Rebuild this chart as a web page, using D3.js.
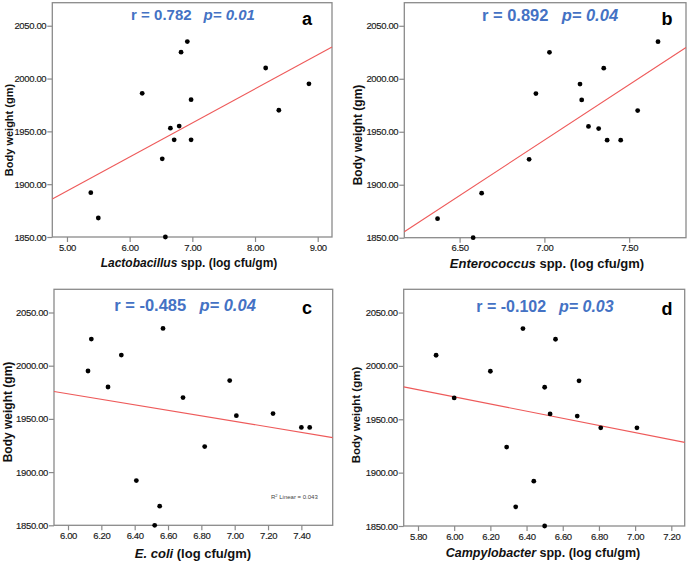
<!DOCTYPE html>
<html><head><meta charset="utf-8">
<script src="https://cdn.jsdelivr.net/npm/d3@7"></script>
<style>body{margin:0;background:#fff}svg{display:block}text{font-family:"Liberation Sans",Arial,sans-serif}</style>
</head><body><svg id="c" width="687" height="561"></svg>
<script>
// ---- data ----
const yTicks = [1850, 1900, 1950, 2000, 2050];
const lactoX = [5.38,5.50,6.20,6.52,6.57,6.65,6.71,6.79,6.82,6.92,6.98,6.98,8.17,8.38,8.86];
const lactoY = [1892,1868,1986,1924,1850,1953,1942,1955,2025,2035,1980,1942,2010,1970,1995];
const lactoTicks = [5,6,7,8,9];
const lactoFit = [1732.2, 32.25];
const enteroX = [6.37,6.58,6.63,6.91,6.95,7.03,7.21,7.22,7.26,7.32,7.35,7.37,7.45,7.55,7.67];
const enteroY = [1868,1850,1892,1924,1986,2025,1995,1980,1955,1953,2010,1942,1942,1970,2035];
const enteroTicks = [6.5,7.0,7.5];
const enteroFit = [1209.2, 104.7];
const ecoliX = [6.12,6.14,6.24,6.32,6.41,6.52,6.55,6.57,6.69,6.82,6.97,7.01,7.23,7.40,7.45];
const ecoliY = [1995,2025,1980,2010,1892,1850,1868,2035,1970,1924,1986,1953,1955,1942,1942];
const ecoliTicks = [6.0,6.2,6.4,6.6,6.8,7.0,7.2,7.4];
const ecoliFit = [2129.4, -25.96];
const campyX = [5.90,6.00,6.20,6.29,6.34,6.38,6.44,6.50,6.50,6.53,6.56,6.68,6.69,6.81,7.01];
const campyY = [2010,1970,1995,1924,1868,2035,1892,1980,1850,1955,2025,1953,1986,1942,1942];
const campyTicks = [5.8,6.0,6.2,6.4,6.6,6.8,7.0,7.2];
const campyFit = [2172.05, -33.5];
const rLabels = ["r = 0.782", "r = 0.892", "r = -0.485", "r = -0.102"];
const pLabels = ["p= 0.01", "p= 0.04", "p= 0.04", "p= 0.03"];
const letters = ["a", "b", "c", "d"];
const xNames = ["Lactobacillus", "Enterococcus", "E. coli", "Campylobacter"];
const xSuffix = [" spp. (log cfu/gm)", " spp. (log cfu/gm)", " (log cfu/gm)", " spp. (log cfu/gm)"];
const yTitle = "Body weight (gm)";

// ---- layout ----
const svg = d3.select("#c");
svg.append("rect").attr("width",687).attr("height",561).attr("fill","#fff");
const panels = [
  {xs:lactoX, ys:lactoY, ticks:lactoTicks, fit:lactoFit, xd:[4.766,9.228], x0:52.3, x1:332, y0:237, y1:2.7,
   ytx:8.5, yty:130, yfs:11, xtx:189, xty:267, xfs:12, ann:[193,20], afs:15, let:[307,25]},
  {xs:enteroX, ys:enteroY, ticks:enteroTicks, fit:enteroFit, xd:[6.174,7.835], x0:404.3, x1:686, y0:237.7, y1:2.7,
   ytx:358, yty:135, yfs:12, xtx:547, xty:268, xfs:13, ann:[550,21], afs:16.5, let:[667,25]},
  {xs:ecoliX, ys:ecoliY, ticks:ecoliTicks, fit:ecoliFit, xd:[5.916,7.588], x0:54, x1:332.7, y0:525.3, y1:289.3,
   ytx:8, yty:412, yfs:12, xtx:193, xty:557.5, xfs:13, ann:[185,311], afs:16.5, let:[307,314]},
  {xs:campyX, ys:campyY, ticks:campyTicks, fit:campyFit, xd:[5.721,7.274], x0:403.7, x1:684.7, y0:526, y1:289.3,
   ytx:355.5, yty:415, yfs:11.5, xtx:543, xty:557, xfs:12.5, ann:[545,312], afs:16, let:[667,315]}
];
const fmt = d3.format(".2f");
panels.forEach((p,i)=>{
  const x = d3.scaleLinear().domain(p.xd).range([p.x0,p.x1]);
  const y = d3.scaleLinear().domain([1850,2071.8]).range([p.y0,p.y1]);
  const g = svg.append("g");
  // frame
  g.append("rect").attr("x",p.x0).attr("y",p.y1).attr("width",p.x1-p.x0).attr("height",p.y0-p.y1)
    .attr("fill","none").attr("stroke","#8a8a8a").attr("stroke-width",1.3);
  // axes
  const ax = g.append("g").attr("transform",`translate(0,${p.y0})`)
    .call(d3.axisBottom(x).tickValues(p.ticks).tickFormat(fmt).tickSize(5).tickPadding(2));
  const ay = g.append("g").attr("transform",`translate(${p.x0},0)`)
    .call(d3.axisLeft(y).tickValues(yTicks).tickFormat(fmt).tickSize(5).tickPadding(1));
  [ax,ay].forEach(a=>{
    a.select(".domain").remove();
    a.selectAll("line").attr("stroke","#8a8a8a").attr("stroke-width",1.2);
    a.selectAll("text").attr("font-size",9.5).attr("fill","#1a1a1a").attr("letter-spacing","-0.35px")
      .attr("font-family","'Liberation Sans',Arial,sans-serif").attr("stroke","#1a1a1a").attr("stroke-width",0.15);
  });
  // fit line
  const fy = v => p.fit[0] + p.fit[1]*v;
  g.append("line").attr("x1",x(p.xd[0])).attr("y1",y(fy(p.xd[0]))).attr("x2",x(p.xd[1])).attr("y2",y(fy(p.xd[1])))
    .attr("stroke","#ee5a5a").attr("stroke-width",1.1);
  // points
  g.selectAll("circle.pt").data(p.xs.map((v,k)=>[v,p.ys[k]])).enter().append("circle")
    .attr("cx",d=>x(d[0])).attr("cy",d=>y(d[1])).attr("r",2.4).attr("fill","#000");
  // y title
  g.append("text").attr("transform",`translate(${p.ytx},${p.yty}) rotate(-90)`).attr("text-anchor","middle")
    .attr("dominant-baseline","central").attr("font-size",p.yfs).attr("font-weight","bold").attr("fill","#111").text(yTitle);
  // x title
  const xt = g.append("text").attr("x",p.xtx).attr("y",p.xty).attr("text-anchor","middle")
    .attr("font-size",p.xfs).attr("font-weight","bold").attr("fill","#111");
  xt.append("tspan").attr("font-style","italic").text(xNames[i]);
  xt.append("tspan").text(xSuffix[i]);
  // annotation
  const at = g.append("text").attr("x",p.ann[0]).attr("y",p.ann[1]).attr("text-anchor","middle")
    .attr("font-size",p.afs).attr("font-weight","bold").attr("fill","#4472C4");
  at.append("tspan").text(rLabels[i]);
  at.append("tspan").attr("font-style","italic").attr("dx",p.afs*0.8).text(pLabels[i]);
  // letter
  g.append("text").attr("x",p.let[0]).attr("y",p.let[1]).attr("text-anchor","middle")
    .attr("font-size",18).attr("font-weight","bold").attr("fill","#000").text(letters[i]);
});
// R² label in panel c
const rt = svg.append("text").attr("x",271).attr("y",499).attr("font-size",6).attr("fill","#444");
rt.append("tspan").text("R");
rt.append("tspan").attr("font-size",4).attr("dy",-2.5).text("2");
rt.append("tspan").attr("dy",2.5).text(" Linear = 0.043");
</script></body></html>
